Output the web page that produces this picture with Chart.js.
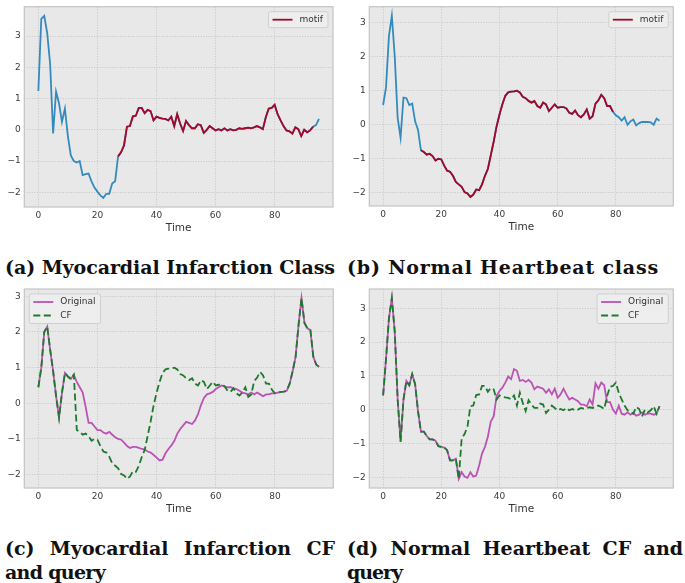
<!DOCTYPE html>
<html>
<head>
<meta charset="utf-8">
<script src="https://cdn.jsdelivr.net/npm/chart.js@4.4.0/dist/chart.umd.min.js"></script>
<style>
body { margin: 0; background: #fff; width: 685px; height: 583px; position: relative; overflow: hidden; }
.panel { position: absolute; }
.cap { position: absolute; font-family: "DejaVu Serif", serif; font-weight: bold; font-size: 19px; line-height: 24px; color: #111; white-space: nowrap; }
.just { text-align: justify; text-align-last: justify; }
</style>
</head>
<body>
<div class="panel" id="pa"><canvas id="ca"></canvas></div>
<div class="panel" id="pb"><canvas id="cb"></canvas></div>
<div class="panel" id="pc"><canvas id="cc"></canvas></div>
<div class="panel" id="pd"><canvas id="cd"></canvas></div>

<div class="cap fit" data-w="330" style="left:5px;top:255px">(a) Myocardial Infarction Class</div>
<div class="cap fit" data-w="312" style="left:347px;top:255px">(b) Normal Heartbeat class</div>
<div class="cap just" style="left:5px;top:536px;width:330px">(c) Myocardial Infarction CF</div>
<div class="cap fit" data-w="100" style="left:5px;top:560px">and query</div>
<div class="cap just" style="left:347px;top:536px;width:336px">(d) Normal Heartbeat CF and</div>
<div class="cap fit" data-w="55" style="left:347px;top:560px">query</div>

<script>
// time axis
var time = Array.from({length: 96}, function (_, i) { return i; });
var xTicks = [0, 20, 40, 60, 80];
var yTicks = [-2, -1, 0, 1, 2, 3];

// (a) myocardial infarction query, motif spans index 27..93
var miQuery = [1.24, 3.55, 3.65, 3.1, 2.1, -0.12, 1.22, 0.85, 0.25, 0.68,
  -0.2, -0.82, -1.0, -1.05, -1.0, -1.45, -1.42, -1.4, -1.65, -1.85,
  -1.98, -2.1, -2.18, -2.05, -2.05, -1.72, -1.65, -0.85, -0.72, -0.5,
  0.1, 0.12, 0.43, 0.45, 0.7, 0.7, 0.53, 0.64, 0.6, 0.3,
  0.42, 0.38, 0.36, 0.35, 0.3, 0.42, 0.12, 0.5, 0.2, -0.04,
  0.28, 0.15, 0.05, 0.05, 0.18, 0.15, -0.1, 0.0, 0.12, 0.05,
  -0.02, 0.02, -0.02, 0.05, -0.02, 0.02, -0.02, 0.0, 0.05, 0.03,
  0.05, 0.07, 0.05, 0.08, 0.12, 0.08, 0.02, 0.4, 0.68, 0.7,
  0.8, 0.5, 0.3, 0.12, -0.02, -0.05, -0.12, 0.08, 0.02, -0.2,
  0.0, -0.08, -0.02, 0.1, 0.15, 0.35];
var miMotif = [27, 93];

// (b) normal heartbeat query, motif spans index 13..79
var normalQuery = [0.58, 1.1, 2.6, 3.2, 2.0, 0.2, -0.38, 0.8, 0.78, 0.58,
  0.62, 0.1, -0.15, -0.75, -0.8, -0.88, -0.85, -0.92, -1.05, -1.0,
  -1.02, -1.2, -1.35, -1.38, -1.5, -1.68, -1.75, -1.82, -1.98, -2.02,
  -2.12, -2.05, -1.9, -1.92, -1.75, -1.5, -1.3, -0.9, -0.5, -0.05,
  0.3, 0.6, 0.85, 0.95, 0.97, 0.98, 1.0, 0.95, 0.82, 0.78,
  0.7, 0.65, 0.7, 0.55, 0.5, 0.65, 0.6, 0.4, 0.5, 0.6,
  0.5, 0.52, 0.52, 0.48, 0.35, 0.32, 0.42, 0.28, 0.22, 0.3,
  0.45, 0.18, 0.25, 0.62, 0.72, 0.88, 0.78, 0.55, 0.55, 0.38,
  0.28, 0.22, 0.12, 0.22, 0.0, 0.1, 0.15, -0.02, 0.05, 0.08,
  0.08, 0.08, 0.07, 0.0, 0.18, 0.12];
var normalMotif = [13, 79];

// (c) myocardial infarction original query
var miOriginal = [0.45, 1.0, 2.0, 2.15, 1.5, 0.9, 0.2, -0.4, 0.3, 0.85,
  0.75, 0.68, 0.8, 0.6, 0.45, 0.3, -0.1, -0.55, -0.55, -0.65,
  -0.75, -0.75, -0.82, -0.85, -0.8, -0.88, -0.95, -1.0, -1.02, -1.1,
  -1.2, -1.25, -1.22, -1.22, -1.25, -1.28, -1.3, -1.35, -1.38, -1.45,
  -1.52, -1.6, -1.58, -1.4, -1.28, -1.18, -1.05, -0.85, -0.72, -0.62,
  -0.52, -0.55, -0.58, -0.48, -0.3, -0.05, 0.15, 0.25, 0.28, 0.32,
  0.4, 0.45, 0.5, 0.47, 0.45, 0.45, 0.42, 0.4, 0.35, 0.3,
  0.28, 0.25, 0.3, 0.25, 0.3, 0.25, 0.2, 0.25, 0.25, 0.28,
  0.28, 0.3, 0.32, 0.33, 0.35, 0.55, 0.9, 1.3, 2.2, 2.95,
  2.25, 2.1, 2.05, 1.3, 1.08, 1.02];

// (d) normal heartbeat original query
var normalOriginal = [0.42, 1.5, 2.7, 3.3, 2.3, 0.3, -0.95, 0.3, 0.85, 0.72,
  1.05, 0.75, -0.05, -0.65, -0.65, -0.78, -0.88, -0.88, -0.92, -1.08,
  -1.1, -1.12, -1.2, -1.5, -1.5, -1.45, -2.05, -1.85, -1.98, -2.02,
  -1.85, -1.98, -1.95, -1.65, -1.3, -1.1, -0.8, -0.35, -0.2, 0.4,
  0.55, 0.65, 0.8, 0.98, 0.9, 1.2, 1.15, 0.85, 0.88, 0.82,
  0.88, 0.8, 0.6, 0.68, 0.65, 0.62, 0.5, 0.6, 0.45, 0.62,
  0.35, 0.45, 0.62, 0.45, 0.3, 0.35, 0.3, 0.25, 0.15, 0.15,
  0.1, 0.3, 0.15, 0.78, 0.62, 0.8, 0.72, 0.22, 0.22, 0.0,
  -0.12, 0.12, -0.12, -0.15, -0.08, -0.15, -0.1, -0.18, -0.15, -0.08,
  -0.15, -0.12, -0.12, -0.15, -0.12, 0.1];

var BLUE = '#348ABD', RED = '#A60628', MAGENTA = '#bb52b4', GREEN = '#1c7a2c';

// stretch the single-line captions to the widths seen in the figure
document.querySelectorAll('.fit').forEach(function (el) {
  var target = +el.dataset.w, n = el.textContent.length;
  var w = el.getBoundingClientRect().width;
  el.style.letterSpacing = ((target - w) / n) + 'px';
});

function inRange(i, r) { return i >= r[0] && i <= r[1]; }
function pts(arr) { return time.map(function (i) { return {x: i, y: arr[i]}; }); }
function motifPts(arr, r) { return time.map(function (i) { return {x: i, y: inRange(i, r) ? arr[i] : null}; }); }
// counterfactual = query with the other class's motif swapped in
function cfPts(orig, donor, r) { return time.map(function (i) { return {x: i, y: inRange(i, r) ? donor[i] : orig[i]}; }); }

var framePlugin = {
  id: 'frame',
  beforeDraw: function (chart) {
    var ctx = chart.ctx, a = chart.chartArea;
    ctx.save();
    ctx.fillStyle = '#e8e8e8';
    ctx.fillRect(a.left, a.top, a.right - a.left, a.bottom - a.top);
    ctx.restore();
  },
  afterDraw: function (chart) {
    var ctx = chart.ctx, a = chart.chartArea;
    ctx.save();
    ctx.strokeStyle = '#c4c4c4';
    ctx.lineWidth = 1.2;
    ctx.strokeRect(a.left, a.top, a.right - a.left, a.bottom - a.top);

    // legend box like matplotlib
    var items = chart.data.datasets.filter(function (d) { return d.inLegend; });
    var corner = chart.options.plugins.frame.corner;
    ctx.font = '9px "DejaVu Sans"';
    var tw = 0;
    items.forEach(function (d) { tw = Math.max(tw, ctx.measureText(d.label).width); });
    var w = 4 + 20 + 7 + tw + 5, h = 16 + 13.5 * (items.length - 1);
    var bx = corner === 'nw' ? a.left + 5 : a.right - 5 - w, by = a.top + 5;
    ctx.fillStyle = 'rgba(238,238,238,0.85)';
    ctx.strokeStyle = '#cfcfcf';
    ctx.lineWidth = 1;
    ctx.beginPath();
    ctx.roundRect(bx, by, w, h, 2);
    ctx.fill();
    ctx.stroke();
    items.forEach(function (d, k) {
      var cy = by + 8 + 13.5 * k;
      ctx.strokeStyle = d.borderColor;
      ctx.lineWidth = d.borderWidth;
      ctx.setLineDash(d.borderDash || []);
      ctx.beginPath();
      ctx.moveTo(bx + 4, cy);
      ctx.lineTo(bx + 24, cy);
      ctx.stroke();
      ctx.setLineDash([]);
      ctx.fillStyle = '#333';
      ctx.textBaseline = 'middle';
      ctx.fillText(d.label, bx + 31, cy);
    });
    ctx.restore();
  }
};

function makeChart(id, panel, box, datasets, corner) {
  var left = box[0], top = box[1], pl = box[2], pt = box[3], pr = box[4], pb = box[5];
  var div = document.getElementById(panel);
  var cw = left === 0 ? 340 : 345, ch = pb - top + 33;
  div.style.left = left + 'px';
  div.style.top = top + 'px';
  var cv = document.getElementById(id);
  cv.width = cw;
  cv.height = ch;

  var all = [];
  datasets.forEach(function (d) { d.data.forEach(function (p) { if (p.y !== null) all.push(p.y); }); });
  var lo = Math.min.apply(null, all), hi = Math.max.apply(null, all), pad = (hi - lo) * 0.05;

  return new Chart(cv, {
    type: 'line',
    data: {datasets: datasets},
    options: {
      responsive: false,
      animation: false,
      layout: {padding: {left: 0, top: pt - top, right: left + cw - pr, bottom: 0}},
      elements: {point: {radius: 0}, line: {tension: 0}},
      plugins: {legend: {display: false}, tooltip: {enabled: false}, frame: {corner: corner}},
      scales: {
        x: {
          type: 'linear', min: -4.75, max: 99.75,
          afterBuildTicks: function (s) { s.ticks = xTicks.map(function (v) { return {value: v}; }); },
          afterFit: function (s) { s.height = 33; s.paddingLeft = 0; s.paddingRight = 0; },
          grid: {color: '#bdbdbd', lineWidth: 0.8, drawTicks: false},
          border: {display: false, dash: [1, 1.6]},
          ticks: {padding: 3, color: '#3a3a3a', font: {family: 'DejaVu Sans', size: 9}, maxRotation: 0},
          title: {display: true, text: 'Time', color: '#333', font: {family: 'DejaVu Sans', size: 10.5}, padding: {top: 0, bottom: 5}}
        },
        y: {
          min: lo - pad, max: hi + pad,
          afterBuildTicks: function (s) { s.ticks = yTicks.map(function (v) { return {value: v}; }); },
          afterFit: function (s) { s.width = pl - left; s.paddingTop = 0; s.paddingBottom = 0; },
          grid: {color: '#bdbdbd', lineWidth: 0.8, drawTicks: false},
          border: {display: false, dash: [1, 1.6]},
          ticks: {
            padding: 3.5, color: '#3a3a3a', font: {family: 'DejaVu Sans', size: 9},
            callback: function (v) { return v < 0 ? '\u2212' + Math.abs(v) : '' + v; }
          }
        }
      }
    },
    plugins: [framePlugin]
  });
}

makeChart('ca', 'pa', [0, 0, 24.3, 6.7, 333, 207], [
  {label: 'motif', data: motifPts(miQuery, miMotif), borderColor: RED, borderWidth: 1.8, order: 0, inLegend: true, spanGaps: false},
  {label: 'query', data: pts(miQuery), borderColor: BLUE, borderWidth: 1.8, order: 1}
], 'ne');

makeChart('cb', 'pb', [340, 0, 369.3, 6.7, 673.3, 206.7], [
  {label: 'motif', data: motifPts(normalQuery, normalMotif), borderColor: RED, borderWidth: 1.8, order: 0, inLegend: true, spanGaps: false},
  {label: 'query', data: pts(normalQuery), borderColor: BLUE, borderWidth: 1.8, order: 1}
], 'ne');

makeChart('cc', 'pc', [0, 285, 24.3, 289, 333.3, 488.3], [
  {label: 'Original', data: pts(miOriginal), borderColor: MAGENTA, borderWidth: 1.8, order: 1, inLegend: true},
  {label: 'CF', data: cfPts(miOriginal, normalQuery, normalMotif), borderColor: GREEN, borderWidth: 1.8, borderDash: [7, 3.5], order: 0, inLegend: true}
], 'nw');

makeChart('cd', 'pd', [340, 285, 369.3, 289, 673.3, 488.3], [
  {label: 'Original', data: pts(normalOriginal), borderColor: MAGENTA, borderWidth: 1.8, order: 1, inLegend: true},
  {label: 'CF', data: cfPts(normalOriginal, miQuery, miMotif), borderColor: GREEN, borderWidth: 1.8, borderDash: [7, 3.5], order: 0, inLegend: true}
], 'ne');
</script>
</body>
</html>
